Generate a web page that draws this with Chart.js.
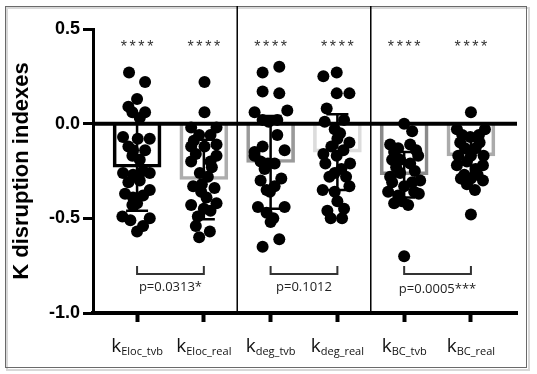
<!DOCTYPE html>
<html>
<head>
<meta charset="utf-8">
<title>K disruption indexes</title>
<style>
    body {
        margin: 0;
        background: #fff;
    }
    #chart {
        display: block;
    }
</style>
<script src="https://cdn.jsdelivr.net/npm/chart.js"></script>
</head>
<body>
<canvas id="chart" width="537" height="374"></canvas>
<script>
    // categories (k subscript names)
    const categories = ['Eloc_tvb', 'Eloc_real', 'deg_tvb', 'deg_real', 'BC_tvb', 'BC_real'];
    const means = [-0.23, -0.295, -0.205, -0.15, -0.27, -0.17];
    const sds = [0.23, 0.21, 0.245, 0.2, 0.12, 0.11];
    const barColors = ['#000000', '#adadad', '#9a9a9a', '#dcdcdc', '#8a8a8a', '#ababab'];
    const stars = ['****', '****', '****', '****', '****', '****'];
    const yTicks = [0.5, 0, -0.5, -1.0];

    // comparisons: pairs of category indexes and p values
    const pairs = [[0, 1], [2, 3], [4, 5]];
    const pLabels = ['p=0.0313*', 'p=0.1012', 'p=0.0005***'];

    // individual values per category: [jitter (in category units), value]
    const pointsEloc_tvb = [
        [-0.12, 0.27], [0.12, 0.22], [0, 0.13], [-0.13, 0.09], [-0.07, 0.06], [0.12, 0.06], [0.04, 0.03],
        [-0.21, -0.07], [0.01, -0.08], [0.19, -0.08], [-0.13, -0.12], [-0.06, -0.14], [0.12, -0.14],
        [-0.07, -0.17], [0.04, -0.19], [-0.21, -0.26], [-0.06, -0.27], [0.09, -0.25], [0.19, -0.26],
        [-0.13, -0.31], [0.04, -0.30], [0.19, -0.35], [-0.18, -0.37], [-0.06, -0.39], [0.09, -0.38],
        [0, -0.42], [-0.07, -0.43], [-0.22, -0.49], [-0.1, -0.51], [0.19, -0.50], [0.09, -0.54], [0, -0.57]
    ];
    const pointsEloc_real = [
        [0.01, 0.22], [0.01, 0.06], [-0.19, -0.02], [0.19, -0.02], [-0.07, -0.06], [0.1, -0.06],
        [-0.19, -0.12], [0.01, -0.12], [0.19, -0.11], [-0.19, -0.2], [0.1, -0.2], [0.19, -0.17],
        [-0.06, -0.26], [0.06, -0.28], [-0.16, -0.33], [0.16, -0.34], [-0.04, -0.36], [0.04, -0.39],
        [-0.19, -0.43], [0.19, -0.42], [0, -0.45], [-0.09, -0.49], [0.1, -0.46], [-0.12, -0.54],
        [0.09, -0.57], [-0.07, -0.60], [-0.03, -0.32], [0.12, -0.23], [-0.12, -0.16], [-0.15, -0.09]
    ];
    const pointsDeg_tvb = [
        [-0.12, 0.27], [0.13, 0.30], [-0.12, 0.17], [0.13, 0.16], [-0.24, 0.06], [0.25, 0.07],
        [-0.12, 0.02], [0.1, 0.02], [-0.03, 0.01], [0.1, -0.06], [-0.12, -0.12], [-0.24, -0.17],
        [0.21, -0.14], [-0.15, -0.20], [-0.04, -0.21], [0.06, -0.21], [-0.15, -0.30], [0.16, -0.29],
        [-0.06, -0.35], [-0.01, -0.36], [0.06, -0.33], [-0.19, -0.44], [0.21, -0.44], [-0.06, -0.47],
        [0.04, -0.50], [0, -0.52], [-0.12, -0.65], [0.13, -0.61], [-0.24, -0.15], [-0.09, -0.24]
    ];
    const pointsDeg_real = [
        [-0.21, 0.25], [-0.01, 0.27], [-0.01, 0.16], [0.18, 0.16], [-0.16, 0.08], [-0.19, 0.01],
        [0.1, 0.02], [-0.04, -0.03], [0.04, -0.05], [0, -0.08], [0.18, -0.10], [-0.21, -0.16],
        [-0.01, -0.17], [-0.18, -0.21], [0.19, -0.21], [-0.04, -0.26], [0.06, -0.24], [-0.22, -0.35],
        [0.18, -0.33], [-0.04, -0.36], [0, -0.41], [-0.15, -0.46], [0.1, -0.45], [-0.1, -0.50],
        [0.07, -0.50], [-0.09, -0.12], [0.09, -0.14], [-0.12, -0.28], [0.13, -0.28]
    ];
    const pointsBC_tvb = [
        [0, 0.0], [0.12, -0.04], [-0.21, -0.11], [-0.09, -0.13], [0.09, -0.11], [0.21, -0.17],
        [-0.18, -0.19], [-0.06, -0.19], [0.09, -0.21], [-0.21, -0.28], [-0.06, -0.26], [0.16, -0.25],
        [-0.18, -0.31], [0.12, -0.31], [-0.24, -0.36], [-0.09, -0.38], [0.15, -0.36], [0.22, -0.37],
        [-0.15, -0.42], [0.06, -0.43], [-0.03, -0.41], [-0.12, -0.23], [0.18, -0.14], [0, -0.33],
        [-0.15, -0.15], [0.24, -0.30], [0, -0.70]
    ];
    const pointsBC_real = [
        [0, 0.06], [-0.21, -0.03], [0.21, -0.03], [-0.01, -0.07], [-0.16, -0.10], [0.13, -0.10],
        [-0.19, -0.17], [0, -0.17], [0.19, -0.17], [-0.21, -0.22], [0.18, -0.22], [-0.1, -0.27],
        [0.1, -0.27], [-0.06, -0.32], [0.18, -0.30], [0.06, -0.35], [0, -0.48], [-0.09, -0.13],
        [0.07, -0.13], [-0.06, -0.20], [0.07, -0.24], [-0.15, -0.29], [0, -0.29], [-0.13, -0.06], [0.12, -0.06]
    ];
    const allPoints = [pointsEloc_tvb, pointsEloc_real, pointsDeg_tvb, pointsDeg_real, pointsBC_tvb, pointsBC_real];

    const extras = {
        id: 'extras',
        beforeDraw(chart) {
            const ctx = chart.ctx;
            ctx.save();
            ctx.fillStyle = '#fff';
            ctx.fillRect(0, 0, chart.width, chart.height);
            // soft shadow + frame
            ctx.strokeStyle = '#d8d8d8';
            ctx.lineWidth = 2;
            ctx.strokeRect(7, 8, 522, 362);
            ctx.strokeStyle = '#6a6a6a';
            ctx.lineWidth = 1;
            ctx.strokeRect(5.5, 6.5, 521, 361);
            ctx.restore();
        },
        beforeDatasetsDraw(chart) {
            const ctx = chart.ctx;
            const x = chart.scales.x, y = chart.scales.y;
            ctx.save();
            // separators between groups
            ctx.strokeStyle = '#000';
            ctx.lineWidth = 1.5;
            [1.5, 3.5].forEach(v => {
                const px = x.getPixelForValue(v);
                ctx.beginPath();
                ctx.moveTo(px, 6);
                ctx.lineTo(px, chart.chartArea.bottom);
                ctx.stroke();
            });
            // error bars (mean +/- sd)
            ctx.lineWidth = 2.5;
            means.forEach((m, i) => {
                const px = x.getPixelForValue(i);
                const top = y.getPixelForValue(m + sds[i]);
                const bot = y.getPixelForValue(m - sds[i]);
                ctx.beginPath();
                ctx.moveTo(px, top);
                ctx.lineTo(px, bot);
                ctx.moveTo(px - 11, top);
                ctx.lineTo(px + 11, top);
                ctx.moveTo(px - 11, bot);
                ctx.lineTo(px + 11, bot);
                ctx.stroke();
            });
            ctx.restore();
        },
        afterDatasetsDraw(chart) {
            const ctx = chart.ctx;
            const y = chart.scales.y;
            const area = chart.chartArea;
            ctx.save();
            ctx.strokeStyle = '#000';
            ctx.lineWidth = 4;
            const y0 = y.getPixelForValue(0);
            ctx.beginPath();
            ctx.moveTo(area.left, y0);
            ctx.lineTo(area.right, y0);
            ctx.stroke();
            ctx.restore();
        },
        afterDraw(chart) {
            const ctx = chart.ctx;
            const x = chart.scales.x;
            ctx.save();
            // significance stars
            ctx.fillStyle = '#333';
            ctx.font = '16px "Liberation Sans"';
            ctx.textAlign = 'center';
            ctx.textBaseline = 'alphabetic';
            stars.forEach((s, i) => {
                const cx = x.getPixelForValue(i);
                const n = s.length;
                for (let k = 0; k < n; k++) {
                    ctx.fillText('*', cx + (k - (n - 1) / 2) * 8.8, 52);
                }
            });
            // brackets and p values
            ctx.strokeStyle = '#333';
            ctx.lineWidth = 2;
            ctx.fillStyle = '#222';
            ctx.font = '13px "Open Sans"';
            ctx.textBaseline = 'middle';
            pairs.forEach((p, i) => {
                const a = x.getPixelForValue(p[0]);
                const b = x.getPixelForValue(p[1]);
                ctx.beginPath();
                ctx.moveTo(a, 266);
                ctx.lineTo(a, 274);
                ctx.lineTo(b, 274);
                ctx.lineTo(b, 266);
                ctx.stroke();
                ctx.fillText(pLabels[i], (a + b) / 2, i === 2 ? 289 : 287);
            });
            // x labels with subscripts
            ctx.fillStyle = '#111';
            ctx.textAlign = 'left';
            ctx.textBaseline = 'alphabetic';
            categories.forEach((c, i) => {
                const cx = x.getPixelForValue(i);
                ctx.font = '19px "Open Sans"';
                const kw = ctx.measureText('k').width;
                ctx.font = '11px "Open Sans"';
                const sw = ctx.measureText(c).width;
                const start = cx - (kw + sw) / 2;
                ctx.font = '19px "Open Sans"';
                ctx.fillText('k', start, 352);
                ctx.font = '11px "Open Sans"';
                ctx.fillText(c, start + kw, 355);
            });
            ctx.restore();
        }
    };

    const scatterSets = allPoints.map((pts, i) => ({
        type: 'scatter',
        data: pts.map(p => ({ x: i + p[0], y: p[1] })),
        backgroundColor: '#000',
        borderWidth: 0,
        pointRadius: 6,
        pointHoverRadius: 6,
        order: 0
    }));

    new Chart(document.getElementById('chart'), {
        type: 'bar',
        data: {
            datasets: [{
                type: 'bar',
                data: means.map((m, i) => ({ x: i, y: m })),
                backgroundColor: 'rgba(255,255,255,0)',
                borderColor: barColors,
                borderWidth: 3,
                barThickness: 48,
                order: 1
            }].concat(scatterSets)
        },
        options: {
            responsive: false,
            animation: false,
            layout: { padding: { left: 5, right: 20, top: 29, bottom: 0 } },
            plugins: {
                legend: { display: false },
                tooltip: { enabled: false }
            },
            scales: {
                x: {
                    type: 'linear',
                    offset: false,
                    min: -0.66,
                    max: 5.69,
                    afterBuildTicks: s => { s.ticks = categories.map((c, i) => ({ value: i })); },
                    afterFit: s => { s.height = 61; },
                    ticks: { callback: () => '', padding: 0 },
                    grid: { offset: false, drawOnChartArea: false, tickLength: 9, tickWidth: 4, tickColor: '#000' },
                    border: { color: '#000', width: 4 }
                },
                y: {
                    min: -1,
                    max: 0.5,
                    afterBuildTicks: s => { s.ticks = yTicks.map(v => ({ value: v })); },
                    afterFit: s => { s.width = 88; },
                    ticks: {
                        color: '#000',
                        padding: 3,
                        font: { family: '"Liberation Sans", Arial', size: 18, weight: 'bold' },
                        callback: v => v.toFixed(1)
                    },
                    grid: { drawOnChartArea: false, tickLength: 10, tickWidth: 3, tickColor: '#000' },
                    border: { color: '#000', width: 3 },
                    title: {
                        display: true,
                        text: 'K disruption indexes',
                        color: '#000',
                        padding: 4,
                        font: { family: '"Liberation Sans", Arial', size: 22, weight: 'bold' }
                    }
                }
            }
        },
        plugins: [extras]
    });
</script>
</body>
</html>
